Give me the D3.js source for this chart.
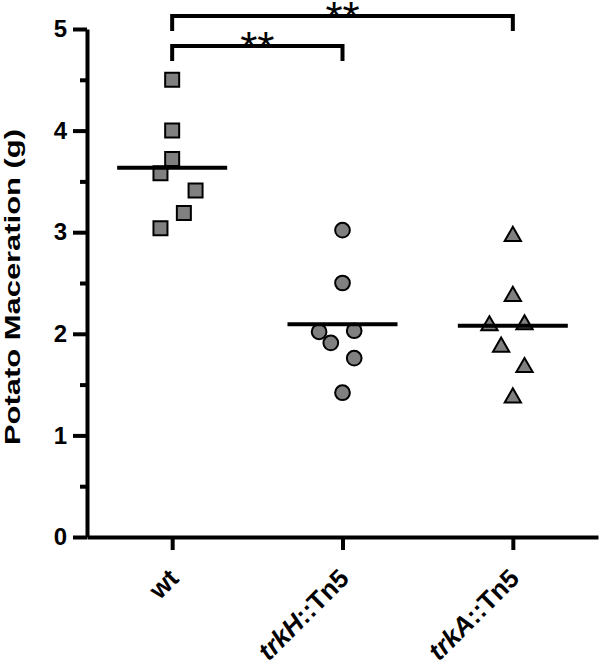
<!DOCTYPE html>
<html>
<head>
<meta charset="utf-8">
<script src="https://cdn.jsdelivr.net/npm/d3@7"></script>
<style>
  body { margin: 0; background: #fff; }
  svg { display: block; font-family: "Liberation Sans", Arial, sans-serif; }
</style>
</head>
<body>
<div id="chart"></div>
<script>
// Groups and their values (g of macerated potato)
const categories = ['wt', 'trkH::Tn5', 'trkA::Tn5'];
const italicPart = ['', 'trkH', 'trkA'];
const wtValues = [4.50, 4.00, 3.72, 3.58, 3.41, 3.19, 3.04];
const trkHValues = [3.02, 2.50, 2.02, 2.03, 1.91, 1.76, 1.42];
const trkAValues = [2.98, 2.39, 2.10, 2.11, 1.89, 1.69, 1.39];
const yTicks = [0, 1, 2, 3, 4, 5];
const yMinorTicks = [0.5, 1.5, 2.5, 3.5, 4.5];
const comparisons = [
    { from: 'wt', to: 'trkH::Tn5', label: '**' },
    { from: 'wt', to: 'trkA::Tn5', label: '**' }
];

// Horizontal spread of overlapping points (in marker half-widths)
const spread = [
    [0, 0, 0, -1, 2, 1, -1],
    [0, 0, -2, 1, -1, 1, 0],
    [0, 0, -2, 1, -1, 1, 0]
];
const groups = [wtValues, trkHValues, trkAValues];
const shapes = [d3.symbolSquare, d3.symbolCircle, d3.symbolTriangle];
const shapeSizes = [196, 170, 115];

const width = 600, height = 667;
const svg = d3.select('#chart').append('svg')
    .attr('width', width)
    .attr('height', height);

const y = d3.scaleLinear().domain([0, 5]).range([537, 29]);
const x = d3.scalePoint().domain(categories).range([87, 598]).padding(0.5);

// Y axis (major + minor ticks)
const yAxis = svg.append('g')
    .attr('transform', 'translate(87,0)')
    .call(d3.axisLeft(y).tickValues(yTicks).tickSize(14).tickSizeOuter(0).tickPadding(6).tickFormat(d3.format('d')));
yAxis.select('.domain').attr('stroke-width', 4);
yAxis.selectAll('.tick line').attr('stroke-width', 4);
yAxis.selectAll('.tick text')
    .attr('font-size', 24)
    .attr('font-weight', 'bold')
    .attr('fill', '#000')
    .attr('font-family', '"Liberation Sans", Arial, sans-serif');

const yMinor = svg.append('g')
    .attr('transform', 'translate(87,0)')
    .call(d3.axisLeft(y).tickValues(yMinorTicks).tickSize(7).tickFormat(''));
yMinor.select('.domain').remove();
yMinor.selectAll('.tick line').attr('stroke-width', 4);

// X axis
const xAxis = svg.append('g')
    .attr('transform', 'translate(0,537)')
    .call(d3.axisBottom(x).tickSize(13).tickSizeOuter(0).tickFormat(''));
xAxis.select('.domain').attr('stroke-width', 4);
xAxis.selectAll('.tick line').attr('stroke-width', 4);

// Rotated category labels
categories.forEach((c, i) => {
    const t = svg.append('text')
        .attr('transform', `translate(${x(c) + 8},580) rotate(-45)`)
        .attr('text-anchor', 'end')
        .attr('font-size', 26)
        .attr('font-weight', 'bold')
        .attr('fill', '#000');
    if (italicPart[i]) {
        t.append('tspan').attr('font-style', 'italic').text(italicPart[i]);
        t.append('tspan').text(c.slice(italicPart[i].length));
    } else {
        t.text(c);
    }
});

// Y axis title
svg.append('text')
    .attr('transform', 'translate(20,287) rotate(-90)')
    .attr('text-anchor', 'middle')
    .attr('font-size', 22)
    .attr('font-weight', 'bold')
    .attr('textLength', 316)
    .attr('lengthAdjust', 'spacingAndGlyphs')
    .text('Potato Maceration (g)');

// Points
groups.forEach((vals, gi) => {
    const cx = x(categories[gi]);
    const sym = d3.symbol().type(shapes[gi]).size(shapeSizes[gi]);
    svg.append('g').selectAll('path')
        .data(vals)
        .join('path')
        .attr('d', sym)
        .attr('transform', (d, j) => {
            const dy = gi === 2 ? 2 : 0;
            return `translate(${cx + spread[gi][j] * 11.7},${y(d) + dy})`;
        })
        .attr('fill', '#808080')
        .attr('stroke', '#000')
        .attr('stroke-width', 2);

    // Mean line
    const m = d3.mean(vals);
    svg.append('line')
        .attr('x1', cx - 55).attr('x2', cx + 55)
        .attr('y1', y(m)).attr('y2', y(m))
        .attr('stroke', '#000')
        .attr('stroke-width', 4);
});

// Significance brackets
const bracketTop = [46, 16];
comparisons.forEach((c, i) => {
    const x1 = x(c.from), x2 = x(c.to), yt = bracketTop[i];
    svg.append('path')
        .attr('d', `M${x1},${yt + 15}V${yt}H${x2}V${yt + 15}`)
        .attr('fill', 'none')
        .attr('stroke', '#000')
        .attr('stroke-width', 4);
    svg.append('text')
        .attr('x', (x1 + x2) / 2)
        .attr('y', yt + 17)
        .attr('text-anchor', 'middle')
        .attr('font-size', 44)
        .attr('font-weight', 'normal')
        .text(c.label);
});
</script>
</body>
</html>
